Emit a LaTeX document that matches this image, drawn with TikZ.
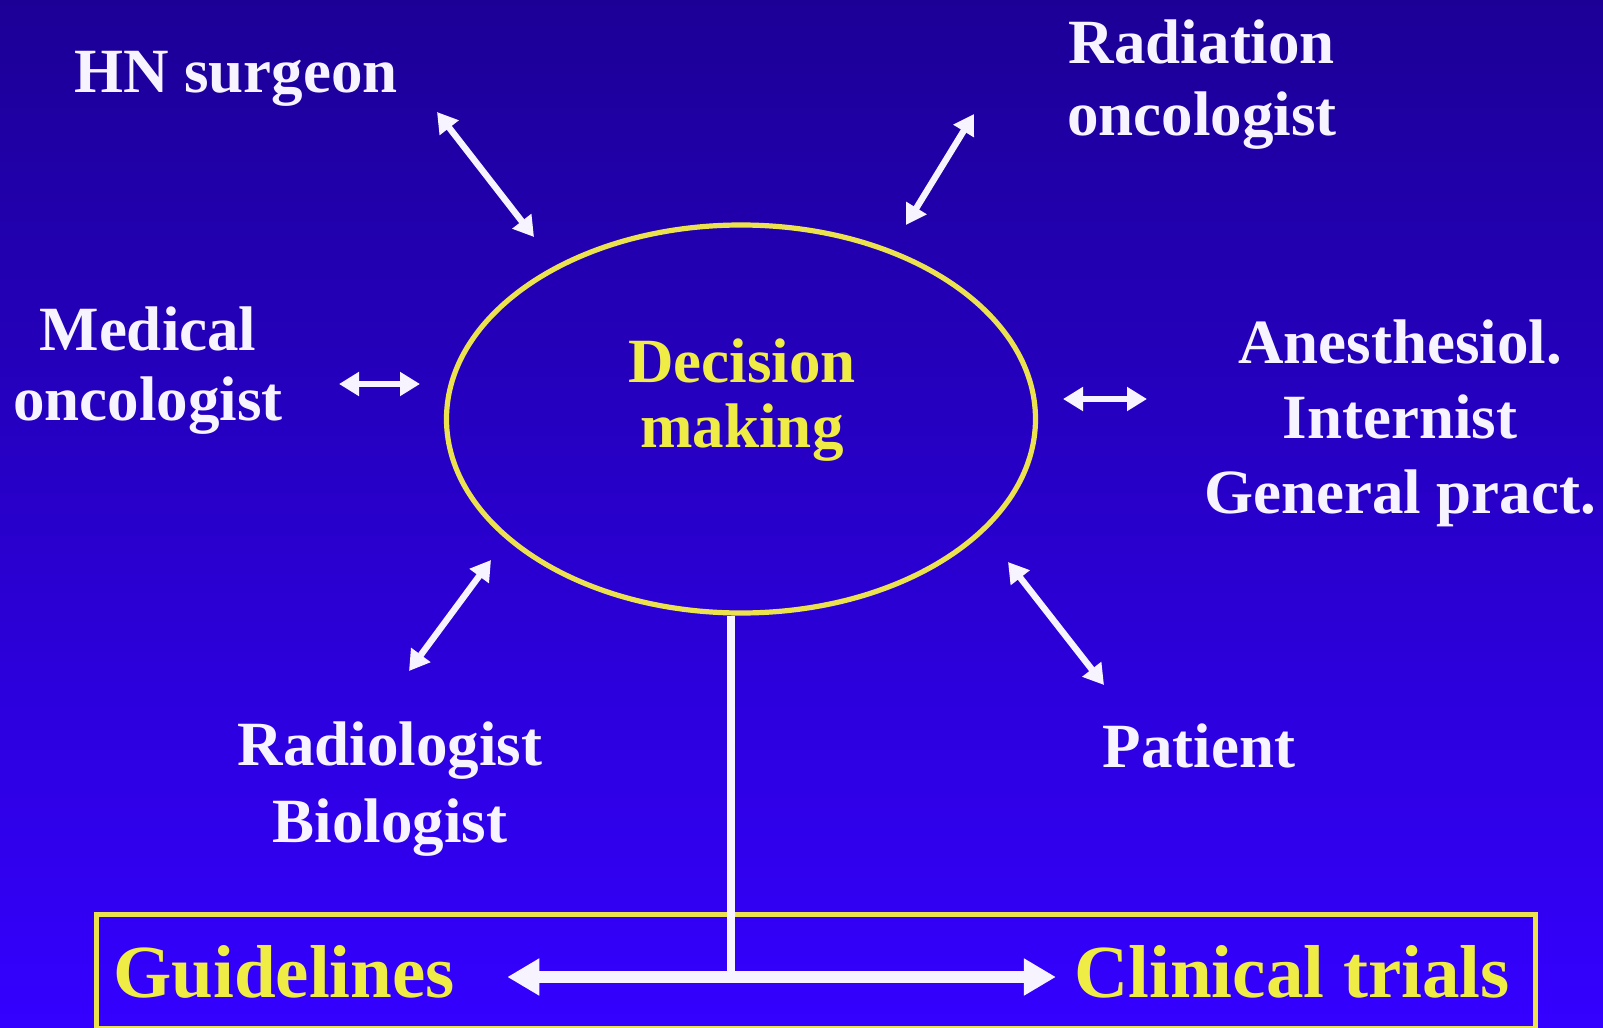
\documentclass[tikz,border=0pt]{standalone}
\usepackage{fontspec}
\setmainfont{Liberation Serif}
\usetikzlibrary{arrows.meta,shapes.geometric}
\definecolor{bgtop}{RGB}{28,0,150}
\definecolor{bgbot}{RGB}{52,0,255}
\definecolor{ylw}{RGB}{240,236,70}
\definecolor{txtw}{RGB}{248,244,255}
\definecolor{lineylw}{RGB}{236,226,80}
\newcommand\mlines[1]{\begin{tabular}[t]{@{}c@{}}#1\end{tabular}}
\begin{document}
\begin{tikzpicture}[x=0.5pt,y=-0.5pt,
  lbl/.style={anchor=base, inner sep=0pt, text=txtw, font=\bfseries\fontsize{31.5}{#1}\selectfont},
  lbl/.default=36,
  ylbl/.style={anchor=base, inner sep=0pt, text=ylw, font=\bfseries\fontsize{#1}{#1}\selectfont},
  arr/.style={draw=txtw, line width=3.2pt, {Triangle[width=11.5pt,length=10pt]}-{Triangle[width=11.5pt,length=10pt]}},
  bigarr/.style={draw=txtw, line width=6pt, {Triangle[width=17.5pt,length=16pt]}-{Triangle[width=17.5pt,length=16pt]}},
  stem/.style={draw=txtw, line width=4.2pt},
  frame/.style={draw=lineylw, line width=2.6pt}]
\useasboundingbox (0,0) rectangle (1603,1028);
\shade[top color=bgtop, bottom color=bgbot] (0,0) rectangle (1603,1028);

% central ellipse
\node[ellipse, frame, minimum width=294.5pt, minimum height=194pt, inner sep=0pt] (dm) at (741,419) {};
\node[ylbl=31.5, font=\bfseries\fontsize{31.5}{32.5}\selectfont] (dmtext) at (742,382) {\mlines{Decision\\making}};

% labels
\node[lbl] (hn) at (236,92) {HN surgeon};
\node[lbl] (ro) at (1202,63) {\mlines{Radiation\\oncologist}};
\node[lbl=35] (mo) at (148,350) {\mlines{Medical\\oncologist}};
\node[lbl=37.5] (an) at (1400,363) {\mlines{Anesthesiol.\\Internist\\General pract.}};
\node[lbl=38.5] (rb) at (390,765) {\mlines{Radiologist\\Biologist}};
\node[lbl] (pt) at (1199,767) {Patient};

% arrow end points
\coordinate (hnA) at (437,112);  \coordinate (hnB) at (534,237);
\coordinate (roA) at (974,114);  \coordinate (roB) at (906,225);
\coordinate (moA) at (339,384);  \coordinate (moB) at (420,384);
\coordinate (anA) at (1063,399); \coordinate (anB) at (1147,399);
\coordinate (rbA) at (491,560);  \coordinate (rbB) at (409,671);
\coordinate (ptA) at (1008,562); \coordinate (ptB) at (1104,685);
\draw[arr] (hnA) -- (hnB);
\draw[arr] (roA) -- (roB);
\draw[arr] (moA) -- (moB);
\draw[arr] (anA) -- (anB);
\draw[arr] (rbA) -- (rbB);
\draw[arr] (ptA) -- (ptB);

% bottom box
\node[frame, anchor=north west, minimum width=719.5pt, minimum height=57pt, inner sep=0pt] (box) at (94,912) {};
\node[ylbl=37.5] (gl) at (284,997) {Guidelines};
\node[ylbl=37.5] (ct) at (1292,997) {Clinical trials};
\coordinate (jn) at (731,977);
\draw[stem] (jn |- dm.south) -- (jn);
\draw[bigarr, shorten <=26pt, shorten >=9pt] (gl.east |- jn) -- (ct.west |- jn);
\end{tikzpicture}
\end{document}
